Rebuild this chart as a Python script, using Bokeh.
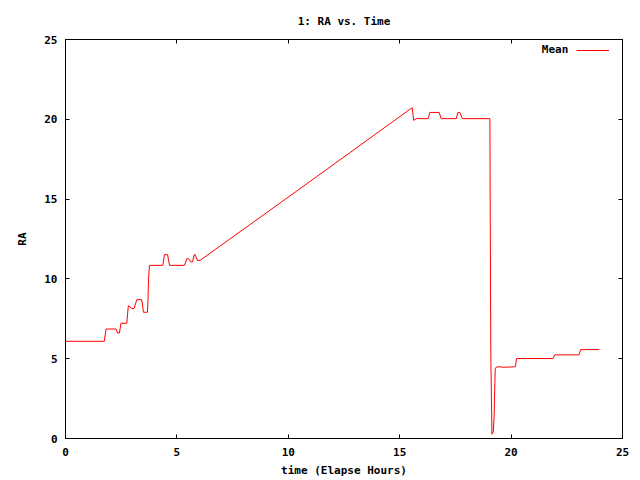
from bokeh.plotting import figure
from bokeh.models import Range1d, LinearAxis, FixedTicker, Label, Legend, LegendItem
from bokeh.embed import file_html
from bokeh.resources import INLINE

title_text = "1: RA vs. Time"
x_label = "time (Elapse Hours)"
y_label = "RA"
series_name = "Mean"
tick_values = [0, 5, 10, 15, 20, 25]

hours = [0.00, 1.74, 1.82, 2.27, 2.33, 2.42, 2.49, 2.75, 2.82, 2.98, 3.08, 3.20,
         3.42, 3.50, 3.68, 3.70, 3.73, 3.77, 4.37, 4.44, 4.58, 4.67, 5.34, 5.45,
         5.52, 5.63, 5.70, 5.78, 5.82, 5.92, 6.04, 10.99,
         15.56, 15.63, 15.75, 16.28, 16.35, 16.77, 16.86, 17.54, 17.61, 17.70,
         17.81, 19.05, 19.06, 19.09, 19.14, 19.20, 19.24, 19.27, 19.29, 19.33,
         19.50, 19.56, 19.87, 20.20, 20.24, 21.88, 21.96, 23.05, 23.12, 23.96]
ra_mean = [6.09, 6.09, 6.86, 6.86, 6.61, 6.61, 7.22, 7.22, 8.33, 8.14, 8.14, 8.70,
           8.70, 7.91, 7.91, 8.60, 10.10, 10.85, 10.85, 11.52, 11.52, 10.85, 10.85, 11.27,
           11.27, 11.06, 11.06, 11.52, 11.52, 11.16, 11.16, 16.12,
           20.73, 19.93, 20.04, 20.04, 20.43, 20.43, 20.04, 20.04, 20.43, 20.43,
           20.04, 20.04, 15.13, 5.22, 0.27, 0.41, 1.46, 3.44, 4.38, 4.47,
           4.50, 4.47, 4.47, 4.50, 5.01, 5.01, 5.24, 5.24, 5.57, 5.57]

FONT = "DejaVu Sans Mono"
FS = "11px"

p = figure(width=640, height=480, output_backend="svg", toolbar_location=None,
           x_range=Range1d(0, 25), y_range=Range1d(0, 25),
           min_border_left=65, min_border_right=18, min_border_top=39,
           min_border_bottom=42, title=title_text)
p.background_fill_color = "white"
p.border_fill_color = "white"
p.outline_line_color = "black"
p.outline_line_alpha = 1.0
p.outline_line_width = 1

p.title.align = "center"
p.title.text_font = FONT
p.title.text_font_size = FS
p.title.text_font_style = "bold"
p.title.text_color = "black"
p.title.standoff = 23

p.xgrid.visible = False
p.ygrid.visible = False

ticker = FixedTicker(ticks=tick_values)
for ax in (p.xaxis[0], p.yaxis[0]):
    ax.ticker = ticker
    ax.major_tick_in = 4
    ax.major_tick_out = 0
    ax.minor_tick_line_color = None
    ax.axis_line_color = "black"
    ax.major_tick_line_color = "black"
    ax.major_label_text_font = FONT
    ax.major_label_text_font_size = FS
    ax.major_label_text_font_style = "bold"
    ax.major_label_text_color = "black"
    ax.axis_label_text_font = FONT
    ax.axis_label_text_font_size = FS
    ax.axis_label_text_font_style = "bold"
    ax.axis_label_text_color = "black"
p.xaxis.axis_label = x_label
p.yaxis.axis_label = y_label
p.xaxis.major_label_standoff = 9
p.xaxis.axis_label_standoff = 5
p.yaxis.major_label_standoff = 8
p.yaxis.axis_label_standoff = 12

for side in ("above", "right"):
    m = LinearAxis(ticker=FixedTicker(ticks=tick_values), major_tick_in=4, major_tick_out=0,
                   minor_tick_line_color=None, major_label_text_font_size="1px",
                   major_label_text_color=None, major_label_standoff=0,
                   axis_line_color="black", major_tick_line_color="black")
    p.add_layout(m, side)

r = p.line(hours, ra_mean, line_color="#ff0000", line_width=1)

legend = Legend(items=[LegendItem(label=" ", renderers=[r])], location="top_right",
                margin=10, padding=0, spacing=0, glyph_width=33, glyph_height=2,
                label_standoff=2, label_text_font_size="1px", label_text_color=None,
                label_height=2, label_width=1, border_line_color=None,
                background_fill_alpha=0)
p.add_layout(legend)

p.add_layout(Label(x=22.57, y=24.4, text=series_name, text_align="right",
                   text_baseline="middle", text_font=FONT, text_font_size=FS,
                   text_font_style="bold", text_color="black"))

open("out.html", "w").write(file_html(p, INLINE))
